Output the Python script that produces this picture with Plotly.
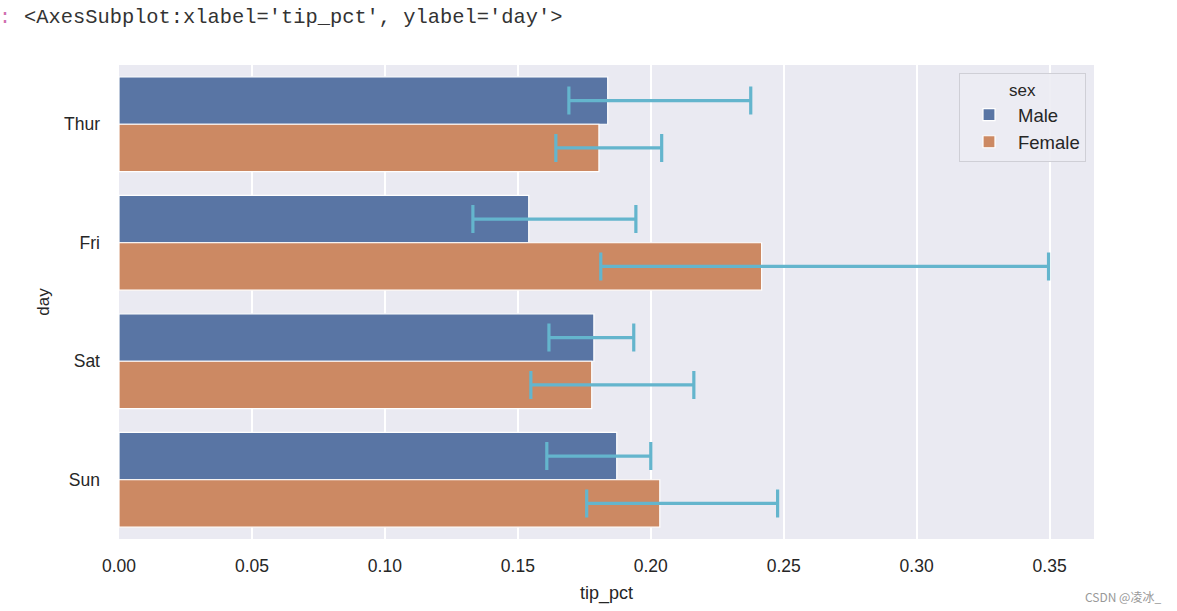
import plotly.graph_objects as go

days = ["Thur", "Fri", "Sat", "Sun"]
male_mean = [0.1838, 0.1541, 0.1786, 0.1872]
male_lo = [0.1692, 0.1331, 0.1617, 0.1609]
male_hi = [0.2376, 0.1944, 0.1936, 0.2000]
female_mean = [0.1805, 0.2417, 0.1778, 0.2034]
female_lo = [0.1643, 0.1812, 0.1549, 0.1759]
female_hi = [0.2041, 0.3496, 0.2162, 0.2477]
x_ticks = [0.0, 0.05, 0.10, 0.15, 0.20, 0.25, 0.30, 0.35]

ERR = "#64b5cd"

def err(mean, lo, hi):
    return dict(type="data", symmetric=False,
                array=[h - m for m, h in zip(mean, hi)],
                arrayminus=[m - l for m, l in zip(mean, lo)],
                color=ERR, thickness=3.2, width=14)

fig = go.Figure()
fig.add_trace(go.Bar(name="Male", y=days, x=male_mean, orientation="h",
                     marker=dict(color="#5975a4", line=dict(color="white", width=1.2)),
                     error_x=err(male_mean, male_lo, male_hi)))
fig.add_trace(go.Bar(name="Female", y=days, x=female_mean, orientation="h",
                     marker=dict(color="#cc8963", line=dict(color="white", width=1.2)),
                     error_x=err(female_mean, female_lo, female_hi)))

font = dict(family="Liberation Sans, Arial, sans-serif", size=16, color="#262626")

fig.update_layout(
    width=1177, height=611,
    margin=dict(l=119, r=83, t=65, b=72),
    paper_bgcolor="white", plot_bgcolor="#eaeaf2",
    barmode="group", bargap=0.2, bargroupgap=0,
    font=font,
    showlegend=True,
    legend=dict(title=dict(text="sex", side="top center", font=dict(size=17, color="#262626")),
                x=0.9918, xanchor="right", y=0.983, yanchor="top",
                bgcolor="rgba(236,236,243,0.9)", bordercolor="#cfcfd6", borderwidth=1,
                font=dict(size=18.5, color="#262626"), itemwidth=48,
                tracegroupgap=0),
    xaxis=dict(range=[0, 0.3667], tickvals=x_ticks, tickformat=".2f",
               showgrid=True, gridcolor="white", gridwidth=1.5, zeroline=False,
               showline=False, ticks="", ticklabelstandoff=14,
               title=dict(text="tip_pct", standoff=11, font=dict(size=18)),
               tickfont=dict(size=17.5, color="#262626")),
    yaxis=dict(categoryorder="array", categoryarray=days, autorange="reversed",
               showgrid=False, zeroline=False, showline=False, ticks="",
               ticklabelstandoff=18,
               title=dict(text="day", standoff=10, font=dict(size=17)),
               tickfont=dict(size=17.5, color="#262626")),
)

fig.add_annotation(xref="paper", yref="paper", x=0, y=1, yshift=48, xshift=-97,
                   xanchor="left", yanchor="middle", showarrow=False,
                   text="<AxesSubplot:xlabel='tip_pct', ylabel='day'>",
                   font=dict(family="Liberation Mono, DejaVu Sans Mono, monospace", size=20.4, color="#333333"))
fig.add_annotation(xref="paper", yref="paper", x=0, y=1, yshift=48, xshift=-114,
                   xanchor="center", yanchor="middle", showarrow=False,
                   text=":", font=dict(family="Liberation Mono", size=20, color="#d070b0"))
fig.add_annotation(xref="paper", yref="paper", x=1, y=0, xshift=69, yshift=-57,
                   xanchor="right", yanchor="middle", showarrow=False,
                   text="CSDN @凌冰_",
                   font=dict(family="Noto Sans CJK SC, Liberation Sans", size=12, color="#999999"))

fig.write_html("out.html", config={"displayModeBar": False},
               post_script="document.body.style.margin='0';")
